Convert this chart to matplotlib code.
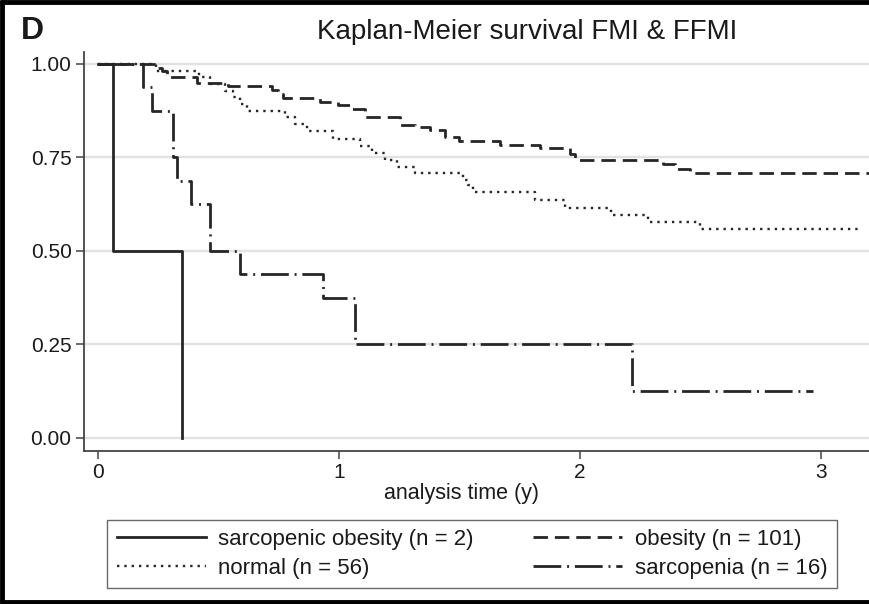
import matplotlib
matplotlib.use("Agg")
import matplotlib.pyplot as plt
import numpy as np
from matplotlib.lines import Line2D

plt.rcParams['font.family'] = ['Liberation Sans', 'DejaVu Sans']

# ---------------- data ----------------
title = "Kaplan-Meier survival FMI & FFMI"
panel_letter = "D"
x_label = "analysis time (y)"
x_ticks = [0, 1, 2, 3]
y_ticks = [0.00, 0.25, 0.50, 0.75, 1.00]

so_label = "sarcopenic obesity (n = 2)"
so_time = [0.0, 0.061, 0.347]
so_surv = [1.0, 0.5, 0.0]
so_end = 0.347

ob_label = "obesity (n = 101)"
ob_time = [0.0, 0.245, 0.266, 0.286, 0.41, 0.54, 0.722, 0.747, 0.768, 0.92, 0.996,
           1.054, 1.108, 1.255, 1.315, 1.378, 1.44, 1.50, 1.668, 1.834, 1.96, 1.98,
           2.344, 2.394, 2.456]
ob_surv = [1.0, 0.99, 0.98, 0.965, 0.949, 0.94, 0.93, 0.92, 0.909, 0.899, 0.889,
           0.879, 0.858, 0.838, 0.831, 0.824, 0.805, 0.794, 0.783, 0.776, 0.76, 0.742,
           0.733, 0.72, 0.709]
ob_end = 3.25

no_label = "normal (n = 56)"
no_time = [0.0, 0.24, 0.42, 0.465, 0.527, 0.56, 0.59, 0.62, 0.776, 0.817, 0.867,
           0.975, 1.087, 1.137, 1.19, 1.24, 1.315, 1.515, 1.535, 1.556, 1.813, 1.938,
           2.13, 2.282, 2.498]
no_surv = [1.0, 0.982, 0.964, 0.946, 0.929, 0.911, 0.893, 0.875, 0.857, 0.839, 0.82,
           0.80, 0.78, 0.762, 0.743, 0.725, 0.709, 0.69, 0.675, 0.658, 0.636, 0.615,
           0.596, 0.578, 0.559]
no_end = 3.17

sa_label = "sarcopenia (n = 16)"
sa_time = [0.0, 0.187, 0.224, 0.311, 0.33, 0.386, 0.465, 0.589, 0.934, 1.066, 2.215]
sa_surv = [1.0, 0.9375, 0.875, 0.75, 0.6875, 0.625, 0.5, 0.4375, 0.375, 0.25, 0.125]
sa_end = 2.967

# ---------------- figure ----------------
W, H = 869, 604
fig = plt.figure(figsize=(W / 100, H / 100), dpi=100)
fig.patch.set_facecolor('white')

ax = fig.add_axes([84 / W, 1 - 451 / H, (W - 84) / W, (451 - 52) / H])
ax.set_xlim(-0.058, 3.2)
ax.set_ylim(-0.035, 1.032)

line_col = '#262626'


def km(ax, t, s, end, **kw):
    tt = np.append(np.asarray(t, float), end)
    ss = np.append(np.asarray(s, float), s[-1])
    return ax.step(tt, ss, where='post', color=line_col, **kw)[0]


h_so = km(ax, so_time, so_surv, so_end, lw=2.0, linestyle='-', label=so_label)
h_ob = km(ax, ob_time, ob_surv, ob_end, lw=2.0, linestyle=(0, (5.2, 2.5)), label=ob_label)
h_no = km(ax, no_time, no_surv, no_end, lw=1.7, linestyle=(0, (1.0, 2.1)), label=no_label)
h_sa = km(ax, sa_time, sa_surv, sa_end, lw=2.0, linestyle=(0, (10.0, 2.1, 0.7, 2.1)), label=sa_label)

# grid
ax.set_yticks(y_ticks)
ax.set_yticklabels([f"{v:.2f}" for v in y_ticks])
ax.set_xticks(x_ticks)
ax.set_xticklabels([str(v) for v in x_ticks])
ax.yaxis.grid(True, color='#e2e2e2', lw=1.7)
ax.xaxis.grid(False)
ax.set_axisbelow(True)

for sp in ['top', 'right']:
    ax.spines[sp].set_visible(False)
for sp in ['left', 'bottom']:
    ax.spines[sp].set_color('#444444')
    ax.spines[sp].set_linewidth(1.3)
ax.tick_params(axis='both', direction='out', length=6, width=1.1, color='#444444',
               labelsize=15, labelcolor='#1a1a1a', pad=3)

# texts
fig.text(21 / W, 1 - 16 / H, panel_letter, fontsize=23, fontweight='bold',
         ha='left', va='top', color='#1a1a1a')
fig.text(527 / W, 1 - 32 / H, title, fontsize=20, ha='center', va='center', color='#1a1a1a')
fig.text(462 / W, 1 - 494 / H, x_label, fontsize=15.5, ha='center', va='center', color='#1a1a1a')

# legend
leg = fig.legend([h_so, h_no, h_ob, h_sa], [so_label, no_label, ob_label, sa_label],
                 ncol=2, loc='center', bbox_to_anchor=(472 / W, 1 - 554 / H),
                 fontsize=16, frameon=True, fancybox=False, handlelength=4.0,
                 handletextpad=0.55, columnspacing=2.7, labelspacing=0.35,
                 borderpad=0.42, borderaxespad=0)
leg.get_frame().set_edgecolor('#444444')
leg.get_frame().set_linewidth(1.0)
for t in leg.get_texts():
    t.set_color('#1a1a1a')

# outer frame (left, top, bottom)
frame_kw = dict(color='black', lw=3.5, transform=fig.transFigure, solid_capstyle='butt')
fig.add_artist(Line2D([2 / W, 2 / W], [0, 1], **frame_kw))
fig.add_artist(Line2D([0, 1], [1 - 2 / H, 1 - 2 / H], **frame_kw))
fig.add_artist(Line2D([0, 1], [2 / H, 2 / H], **frame_kw))

fig.savefig('out.png', dpi=100)
